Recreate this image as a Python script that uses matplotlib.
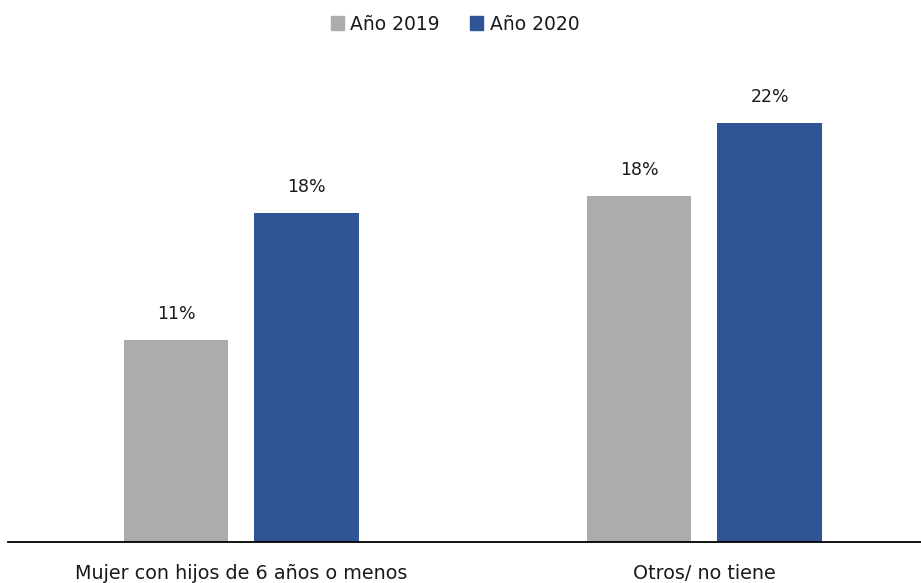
import matplotlib.pyplot as plt
import matplotlib.patches as mpatches
import numpy as np

# Datos: porcentaje por categoría y año
categorias = ['Mujer con hijos de 6 años o menos', 'Otros/ no tiene']
series = ['Año 2019', 'Año 2020']
valores_2019 = [10.8, 18.5]
valores_2020 = [17.6, 22.4]
colores = ['#AEABAB', '#2F5597']

plt.rcParams['font.family'] = ['DejaVu Sans']

W, H = 921, 583
fig = plt.figure(figsize=(W / 100, H / 100), dpi=100)

# ejes colocados en pixeles de la figura
left_px, right_px, base_px, top_px = 8, 921, 542, 74.5
ax = fig.add_axes([left_px / W, (H - base_px) / H,
                   (right_px - left_px) / W, (base_px - top_px) / H])

x = np.arange(len(categorias))
ancho = 0.226
offset = 0.141

b1 = ax.bar(x - offset, valores_2019, ancho, color=colores[0], label=series[0])
b2 = ax.bar(x + offset, valores_2020, ancho, color=colores[1], label=series[1])

for barras in (b1, b2):
    for b in barras:
        v = b.get_height()
        ax.annotate(f'{v:.0f}%', (b.get_x() + b.get_width() / 2, v),
                    xytext=(0, 12), textcoords='offset points',
                    ha='center', va='bottom', fontsize=12.5, color='#1a1a1a')

ax.set_xlim(-0.504, 1.4676)
ax.set_ylim(0, 25)

ax.set_xticks(x, categorias, fontsize=13.8, color='#1a1a1a')
ax.tick_params(axis='x', length=0, pad=16)
ax.set_yticks([])

for s in ['top', 'right', 'left']:
    ax.spines[s].set_visible(False)
ax.spines['bottom'].set_color('black')
ax.spines['bottom'].set_linewidth(1.3)

handles = [mpatches.Patch(color=c, label=s) for c, s in zip(colores, series)]
fig.legend(handles=handles, loc='center', ncol=2, frameon=False,
           bbox_to_anchor=(455 / W, 1 - 24 / H), fontsize=13.5,
           handlelength=0.7, handleheight=0.7, handletextpad=0.35,
           columnspacing=1.6, labelcolor='#1a1a1a')

fig.savefig('out.png', dpi=100, facecolor='white')
